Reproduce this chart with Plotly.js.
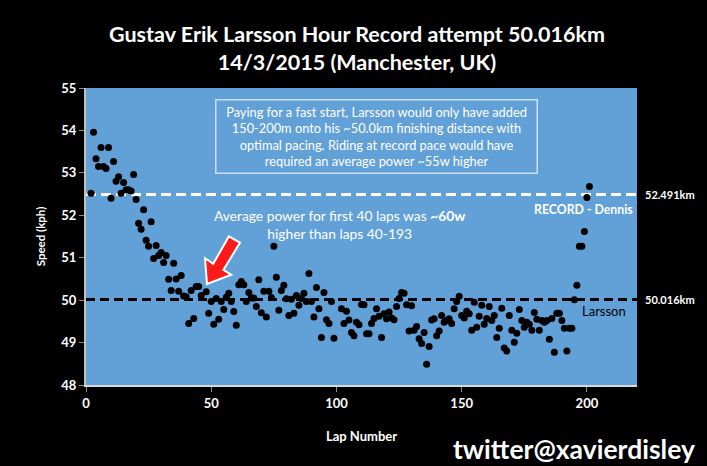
<!DOCTYPE html>
<html>
<head>
<meta charset="utf-8">
<script src="https://cdn.plot.ly/plotly-3.0.1.min.js"></script>
<style>
html,body{margin:0;padding:0;background:#000;}
#chart{width:707px;height:466px;}
</style>
</head>
<body>
<div id="chart"></div>
<script>
// Speed (kph) per lap, laps 1..201 (null = not visible)
const speeds = [
  null, 52.52, 53.96, 53.33, 53.15, 53.6, 53.15, 53.1, 53.6, 52.4,
  53.27, 52.8, 52.91, 52.52, 52.77, 52.6, 52.6, 52.57, 52.96, 52.37,
  51.81, 51.67, 52.13, 51.41, 51.27, 51.85, 50.98, 51.29, 51.05, 51.12,
  50.89, 51.05, 50.49, 50.23, 50.87, 50.5, 50.21, 50.58, 50.1, 50.08,
  49.45, 50.23, 49.57, 50.32, 50.32, 50.11, null, 50.2, 49.69, 49.97,
  49.43, 50.04, 49.55, 49.97, 49.78, 50.07, 50.16, 49.97, 49.73, 49.41,
  50.36, 50.44, 50.36, 49.97, 50.18, 50.05, 50.05, 49.85, 50.48, 49.7,
  50.21, 49.6, 50.21, 50.06, 51.27, 50.54, 49.76, 50.23, 50.35, 50.03,
  49.64, 50.02, 49.69, 50.11, 49.88, 50.04, 50.16, 49.97, 50.63, 49.97,
  49.6, 50.3, 49.8, 49.12, 50.18, 49.54, 49.45, 49.97, 49.1, null,
  null, 49.8, 49.45, 49.74, 49.53, 49.24, 49.16, 49.48, 49.42, 49.9,
  49.89, 49.21, 49.21, 49.45, 49.57, 49.8, 49.62, 49.12, 49.68, 49.56,
  49.72, 49.58, 49.54, 49.85, 50.04, 50.18, 50.16, 49.89, 49.27, 49.87,
  49.29, 49.38, 49.09, 48.98, 49.24, 48.49, 48.91, 49.53, 49.56, 49.16,
  49.27, 49.64, 49.48, 49.52, 49.56, 49.45, 49.8, 49.97, 50.09, 49.64,
  49.58, 49.74, 49.68, 49.29, 49.95, 49.36, 49.62, 49.88, 49.43, 49.57,
  49.85, 49.52, 49.64, 49.12, 49.34, 49.81, 48.87, 48.8, 49.64, 49.29,
  49.01, 49.22, 49.78, 49.52, 49.36, 49.48, 49.43, 49.29, 49.71, 49.55,
  49.29, 49.52, 49.48, 49.52, 49.08, 49.57, 48.77, 49.69, 49.69, 49.52,
  49.34, 48.8, 49.34, 49.34, 50.01, 50.35, 51.27, 51.27, 51.62, 52.42,
  52.68
];
const laps = speeds.map((_, i) => i + 1);

const recordSpeed = 52.491;
const larssonSpeed = 50.016;
const recordLabel = "52.491km";
const larssonLabel = "50.016km";
const xTicks = [0, 50, 100, 150, 200];
const yTicks = [48, 49, 50, 51, 52, 53, 54, 55];

const FONT = "Lato, Roboto, 'DejaVu Sans', sans-serif";

const trace = {
  x: laps, y: speeds, type: "scatter", mode: "markers",
  marker: {color: "#000", size: 7},
  hoverinfo: "skip", showlegend: false
};

const layout = {
  width: 707, height: 466,
  paper_bgcolor: "#000", plot_bgcolor: "#62A0D8",
  margin: {l: 86, r: 70, t: 88, b: 81},
  font: {family: FONT, color: "#fff"},
  title: {
    text: "Gustav Erik Larsson Hour Record attempt 50.016km<br>14/3/2015 (Manchester, UK)",
    font: {family: FONT, size: 21.5, color: "#fff", weight: "bold"},
    x: 0.505, xanchor: "center", yref: "container", y: 0.91, yanchor: "middle"
  },
  xaxis: {
    range: [0, 220], tickvals: xTicks, showgrid: false, zeroline: false,
    showline: true, linecolor: "#d9d9d9", linewidth: 2,
    ticks: "outside", ticklen: 5, tickcolor: "#8c8c8c", tickwidth: 1,
    tickfont: {family: FONT, size: 13, color: "#fff", weight: "bold"},
    title: {text: "Lap Number", standoff: 22,
      font: {family: FONT, size: 13, color: "#fff", weight: "bold"}},
    fixedrange: true
  },
  yaxis: {
    range: [48, 55], tickvals: yTicks, showgrid: false, zeroline: false,
    showline: true, linecolor: "#bfbfbf", linewidth: 2,
    ticks: "outside", ticklen: 5, tickcolor: "#8c8c8c", tickwidth: 1,
    tickfont: {family: FONT, size: 13, color: "#fff", weight: "bold"},
    title: {text: "Speed (kph)", standoff: 13,
      font: {family: FONT, size: 11.5, color: "#fff", weight: "bold"}},
    fixedrange: true
  },
  shapes: [
    {type: "line", xref: "paper", x0: 0, x1: 1, yref: "y", y0: recordSpeed, y1: recordSpeed,
     line: {color: "#fff", width: 3, dash: "10px,5px"}, layer: "below"},
    {type: "line", xref: "paper", x0: 0, x1: 1, yref: "y", y0: larssonSpeed, y1: larssonSpeed,
     line: {color: "#000", width: 3, dash: "9px,5px"}, layer: "below"},
    {type: "path", xref: "x", yref: "y",
     path: "M48.31,50.381 L57.98,50.600 L54.86,50.711 L61.49,51.356 L57.02,51.502 L50.79,50.857 L47.51,50.987 Z",
     fillcolor: "#ff1a1a", line: {color: "#fff", width: 2}, layer: "above"}
  ],
  annotations: [
    {xref: "x", yref: "y", x: 116, y: 53.857, showarrow: false,
     text: "Paying for a fast start, Larsson would only have added<br>150-200m onto his ~50.0km finishing distance with<br>optimal pacing. Riding at record pace would have<br>required an average power ~55w higher",
     font: {family: FONT, size: 12.8, color: "#fff"}, align: "center",
     bordercolor: "#cfe0f2", borderwidth: 1.5, borderpad: 3, width: 314},
    {xref: "x", yref: "y", x: 101.4, y: 51.78, showarrow: false,
     text: "Average power for first 40 laps was <b>~60w</b><br>higher than laps 40-193",
     font: {family: FONT, size: 13.8, color: "#fff"}, align: "center"},
    {xref: "x", yref: "y", x: 219, y: 52.148, xanchor: "right", showarrow: false,
     text: "RECORD - Dennis",
     font: {family: FONT, size: 12.3, color: "#fff", weight: "bold"}},
    {xref: "x", yref: "y", x: 216.6, y: 49.744, xanchor: "right", showarrow: false,
     text: "Larsson",
     font: {family: FONT, size: 13, color: "#000"}},
    {xref: "paper", yref: "y", x: 1.01, y: recordSpeed, xanchor: "left", showarrow: false,
     text: recordLabel, font: {family: FONT, size: 11, color: "#fff", weight: "bold"}},
    {xref: "paper", yref: "y", x: 1.01, y: larssonSpeed, xanchor: "left", showarrow: false,
     text: larssonLabel, font: {family: FONT, size: 11, color: "#fff", weight: "bold"}},
    {xref: "paper", yref: "paper", x: 1.109, y: -0.215, xanchor: "right", yanchor: "middle", showarrow: false,
     text: "twitter@xavierdisley", font: {family: FONT, size: 26.5, color: "#fff", weight: "bold"}}
  ]
};

Plotly.newPlot("chart", [trace], layout, {displayModeBar: false, staticPlot: true});
</script>
</body>
</html>
